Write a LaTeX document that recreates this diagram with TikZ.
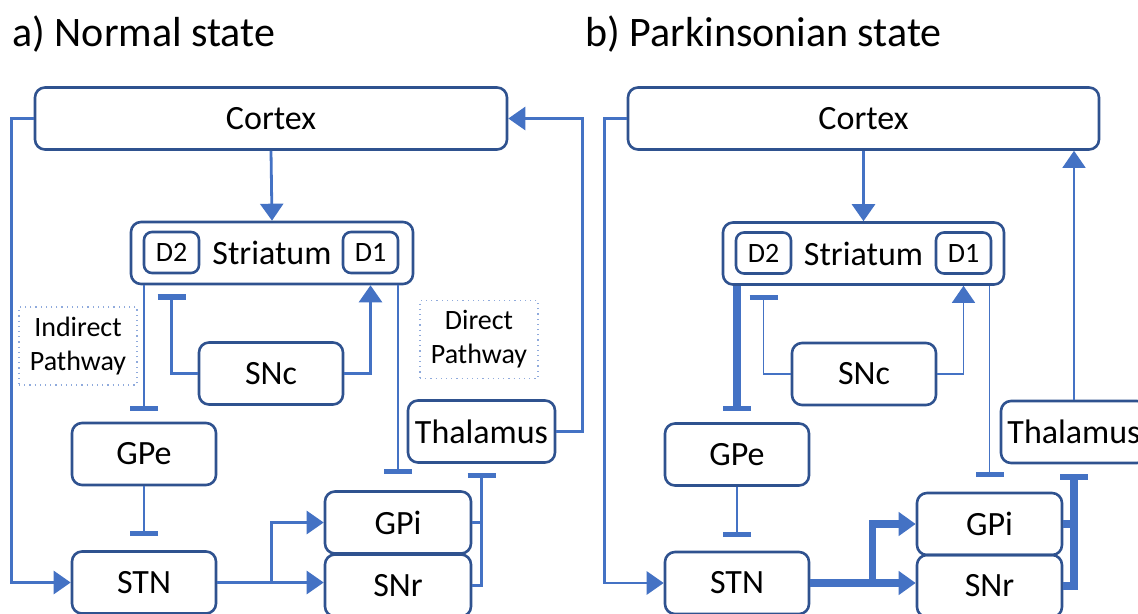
\documentclass[tikz,border=0pt]{standalone}
\usepackage{fontspec}
\setmainfont{Carlito}
\usetikzlibrary{arrows.meta, calc}

\definecolor{lineblue}{HTML}{4472C4}
\definecolor{boxblue}{HTML}{2F528F}
\definecolor{noteblue}{HTML}{8FAADC}

\begin{document}
\begin{tikzpicture}[x = 0.5pt, y = -0.5pt,
	region/.style = {draw = boxblue, line width = 1.3pt, rounded corners = 5pt, minimum width = 72pt, minimum height = 31pt, inner sep = 0pt, font = \fontsize{17}{20}\selectfont},
	receptor/.style = {region, minimum width = 27.5pt, minimum height = 20.5pt, rounded corners = 4pt, font = \fontsize{14}{16}\selectfont},
	note/.style = {draw = noteblue, dotted, line width = 0.6pt, minimum width = 59pt, minimum height = 39pt, align = center, inner sep = 0pt, font = \fontsize{14}{17}\selectfont},
	exc/.style = {draw = lineblue, line width = 1.4pt, -{Triangle[length = 8.5pt, width = 11.5pt]}},
	inh/.style = {draw = lineblue, line width = 1.4pt, -{Bar[width = 14pt, line width = 2.6pt]}},
	link/.style = {draw = lineblue, line width = 1.4pt},
	weak/.style = {line width = 0.7pt},
	strong/.style = {line width = 3.6pt}]

\clip (0, 0) rectangle (1138, 614);

% Titles

\node [anchor = base west, inner sep = 0pt, font = \fontsize{21}{25}\selectfont] (titleA) at (12, 47) {a) Normal state};
\node [anchor = base west, inner sep = 0pt, font = \fontsize{21}{25}\selectfont] (titleB) at (585, 47) {b) Parkinsonian state};

% a) Nuclei

\node [region, minimum width = 236pt] (cortexA) at (271, 118.5) {Cortex};
\node [region, minimum width = 141pt] (striatumA) at (272, 253) {Striatum};
\node [receptor] (d2A) at (171.5, 252.5) {D2};
\node [receptor] (d1A) at (370.5, 252.5) {D1};
\node [region] (sncA) at (271, 373.5) {SNc};
\node [region, minimum width = 73.5pt] (thalA) at (481.5, 431.5) {Thalamus};
\node [region] (gpeA) at (144, 454) {GPe};
\node [region] (stnA) at (144, 582.5) {STN};
\node [region, minimum width = 73pt] (gpiA) at (398, 522.5) {GPi};
\node [region, minimum width = 73pt] (snrA) at (398, 585.5) {SNr};

\node [note] (indirectA) at (78, 346) {Indirect\\Pathway};
\node [note] (directA) at (479, 339.5) {Direct\\Pathway};

% a) Connections

\draw [exc] (cortexA.south) -- (striatumA.north);
\draw [exc] (cortexA.west) -- ++(-22, 0) |- (stnA.west);
\draw [exc] (thalA.east) -- ++(26, 0) |- (cortexA.east);

\draw [inh, shorten > = 5.5pt] (gpeA.north |- striatumA.south) -- (gpeA.north);
\draw [inh, shorten > = 4.5pt] (sncA.west) -| (d2A |- striatumA.south);
\draw [exc] (sncA.east) -| (d1A |- striatumA.south);
\draw [inh, shorten > = 8pt] (gpiA.north |- striatumA.south) -- (gpiA.north);
\draw [inh, shorten > = 7pt] (gpeA.south) -- (stnA.north);

\draw [exc] (stnA.east) -- ++(54.5, 0) coordinate (forkA) |- (gpiA.west);
\draw [exc] (forkA) -- (forkA -| snrA.west);
\draw [link] (gpiA.east) -- (gpiA.east -| thalA.south);
\draw [inh, shorten > = 4.5pt] (snrA.east) -| (thalA.south);

% b) Nuclei

\node [region, minimum width = 235.5pt] (cortexB) at (863.5, 118.5) {Cortex};
\node [region, minimum width = 140.5pt] (striatumB) at (863.5, 253.5) {Striatum};
\node [receptor] (d2B) at (763.5, 253) {D2};
\node [receptor] (d1B) at (963.5, 253) {D1};
\node [region] (sncB) at (864, 374) {SNc};
\node [region, minimum width = 73pt] (thalB) at (1074, 432) {Thalamus};
\node [region] (gpeB) at (737, 454.5) {GPe};
\node [region] (stnB) at (737, 583) {STN};
\node [region, minimum width = 72.5pt] (gpiB) at (989.5, 524) {GPi};
\node [region, minimum width = 72.5pt] (snrB) at (989.5, 586) {SNr};

% b) Connections

\draw [exc] (cortexB.south) -- (striatumB.north);
\draw [exc] (cortexB.west) -- ++(-22, 0) |- (stnB.west);
\draw [exc, weak] (thalB.north) -- (thalB.north |- cortexB.south);

\draw [inh, strong, shorten > = 5.5pt] (gpeB.north |- striatumB.south) -- (gpeB.north);
\draw [inh, weak, shorten > = 4.5pt] (sncB.west) -| (d2B |- striatumB.south);
\draw [exc, weak] (sncB.east) -| (d1B |- striatumB.south);
\draw [inh, weak, shorten > = 7.5pt] (gpiB.north |- striatumB.south) -- (gpiB.north);
\draw [inh, weak, shorten > = 7pt] (gpeB.south) -- (stnB.north);

\draw [exc, strong] (stnB.east) -- ++(62, 0) coordinate (forkB) |- (gpiB.west);
\draw [exc, strong] (forkB) -- (forkB -| snrB.west);
\draw [link, strong] (gpiB.east) -- (gpiB.east -| thalB.south);
\draw [inh, strong, shorten > = 5pt] (snrB.east) -| (thalB.south);

\end{tikzpicture}
\end{document}
